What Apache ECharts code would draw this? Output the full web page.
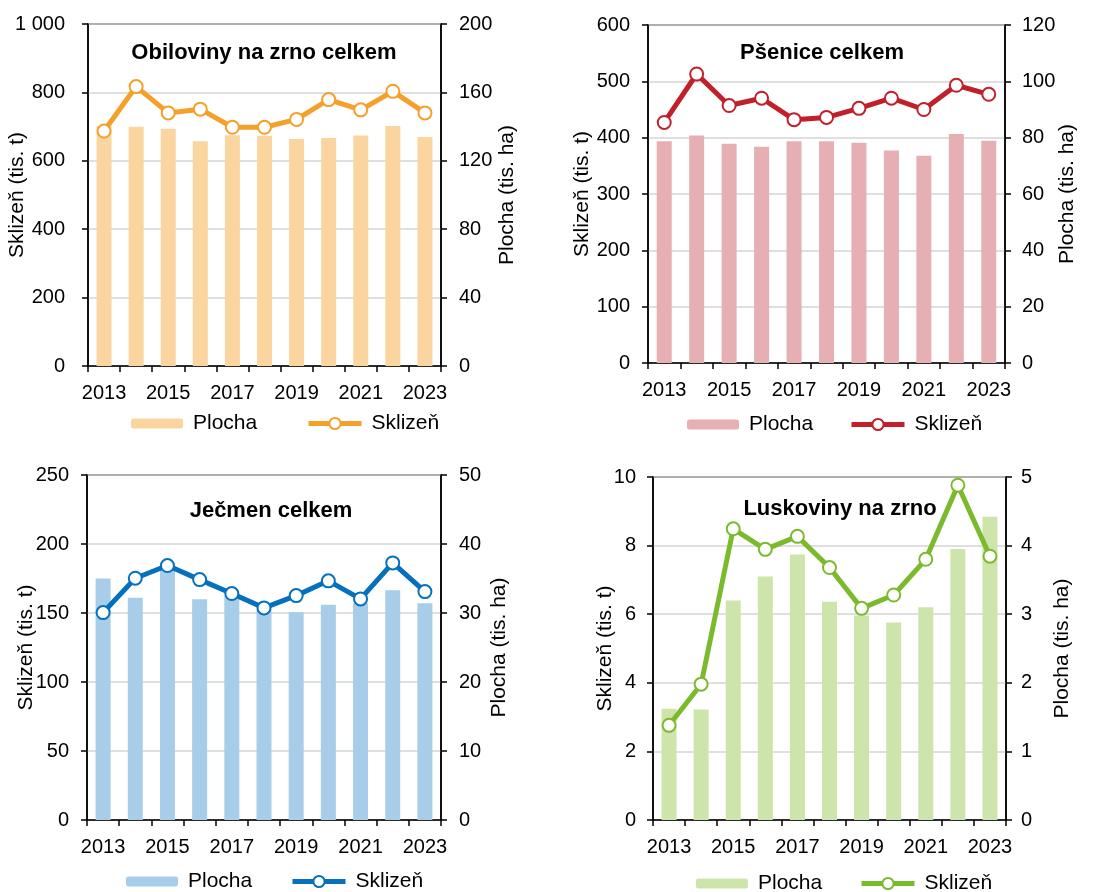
<!DOCTYPE html>
<html>
<head>
<meta charset="utf-8">
<script src="https://cdn.jsdelivr.net/npm/echarts@6/dist/echarts.min.js"></script>
<style>
html,body{margin:0;padding:0;background:#fff;}
.c{position:absolute;width:558px;height:446px;}
</style>
</head>
<body>
<div id="c1" class="c" style="left:0;top:0"></div>
<div id="c2" class="c" style="left:558px;top:0"></div>
<div id="c3" class="c" style="left:0;top:446px"></div>
<div id="c4" class="c" style="left:558px;top:446px"></div>
<script>
const years = ['2013','2014','2015','2016','2017','2018','2019','2020','2021','2022','2023'];

const obilPlocha  = [140.5, 139.9, 138.7, 131.5, 135.0, 134.6, 132.7, 133.3, 134.8, 140.3, 133.9];
const obilSklizen = [687, 817, 740, 751, 698, 698, 721, 779, 749, 803, 740];

const psenPlocha  = [78.7, 80.8, 77.8, 76.8, 78.7, 78.7, 78.2, 75.4, 73.6, 81.3, 78.9];
const psenSklizen = [427, 513, 457, 470, 432, 436, 452, 470, 450, 493, 477];

const jecPlocha  = [35.0, 32.2, 36.3, 32.0, 32.5, 30.5, 30.1, 31.2, 31.4, 33.3, 31.4];
const jecSklizen = [150.3, 175.2, 184.4, 174.2, 164.1, 153.7, 162.6, 173.3, 160.2, 186.3, 165.5];

const luskPlocha  = [1.62, 1.61, 3.20, 3.55, 3.87, 3.18, 2.98, 2.88, 3.10, 3.95, 4.42];
const luskSklizen = [2.76, 3.96, 8.49, 7.89, 8.27, 7.36, 6.17, 6.56, 7.60, 9.76, 7.69];

const titles = ['Obiloviny na zrno celkem', 'Pšenice celkem', 'Ječmen celkem', 'Luskoviny na zrno'];
const leftScale  = [[1000, 200], [600, 100], [250, 50], [10, 2]];   // [max, interval] Sklizeň
const rightScale = [[200, 40], [120, 20], [50, 10], [5, 1]];        // [max, interval] Plocha

const FONT = '"Liberation Sans", Arial, sans-serif';

function fmt(v){ return String(v).replace(/\B(?=(\d{3})+(?!\d))/g, ' '); }

function build(id, idx, plocha, sklizen, barColor, lineColor, L){
  const chart = echarts.init(document.getElementById(id), null, {renderer:'canvas'});
  const axisLineStyle = {color:'#000', width:1.5};
  const legendText = {fontFamily:FONT, fontSize:21, color:'#000', padding:[0,0,0,5]};
  chart.setOption({
    animation:false,
    textStyle:{fontFamily:FONT},
    grid:{left:L.gx, top:L.gy, width:L.gw, height:L.gh, show:true, borderColor:'#000', borderWidth:1.5,
          backgroundColor:'transparent', containLabel:false, outerBoundsMode:'none'},
    graphic:[{type:'text', x:L.tx, y:L.ty, style:{text:titles[idx], font:'bold 22px '+FONT, fill:'#000', align:'center', verticalAlign:'middle'}}],
    legend:[
      {left:L.l1, top:L.ly, padding:0, itemWidth:52, itemHeight:10,
       textStyle:legendText, data:['Plocha']},
      {left:L.l2, top:L.ly, padding:0, itemWidth:53, itemHeight:14,
       textStyle:legendText, data:[{name:'Sklizeň', lineStyle:{width:5}}]}
    ],
    xAxis:{
      type:'category', data:years, boundaryGap:true,
      axisLine:{lineStyle:axisLineStyle},
      axisTick:{show:true, interval:0, length:6, lineStyle:{color:'#000', width:1.5}},
      axisLabel:{interval:1, color:'#000', fontSize:20, fontFamily:FONT, margin:17}
    },
    yAxis:[
      {type:'value', min:0, max:leftScale[idx][0], interval:leftScale[idx][1],
       name:'Sklizeň (tis. t)', nameLocation:'middle', nameGap:L.ng1, nameRotate:90, nameMoveOverlap:false,
       nameTextStyle:{fontSize:21, color:'#000', fontFamily:FONT},
       axisLine:{show:true, lineStyle:axisLineStyle},
       axisTick:{show:true, length:6, lineStyle:{color:'#000', width:1.5}},
       axisLabel:{color:'#000', fontSize:20, fontFamily:FONT, margin:L.lm1, formatter:fmt},
       splitLine:{show:true, lineStyle:{color:'#d4d4d4', width:1.5}}},
      {type:'value', min:0, max:rightScale[idx][0], interval:rightScale[idx][1], position:'right',
       name:'Plocha (tis. ha)', nameLocation:'middle', nameGap:L.ng2, nameRotate:90, nameMoveOverlap:false,
       nameTextStyle:{fontSize:21, color:'#000', fontFamily:FONT},
       axisLine:{show:true, lineStyle:axisLineStyle},
       axisTick:{show:true, length:6, lineStyle:{color:'#000', width:1.5}},
       axisLabel:{color:'#000', fontSize:20, fontFamily:FONT, margin:L.lm2, formatter:fmt},
       splitLine:{show:false}}
    ],
    series:[
      {name:'Plocha', type:'bar', yAxisIndex:1, data:plocha, barWidth:15,
       itemStyle:{color:barColor}},
      {name:'Sklizeň', type:'line', yAxisIndex:0, data:sklizen,
       symbol:'circle', symbolSize:13,
       lineStyle:{color:lineColor, width:5},
       itemStyle:{color:'#fff', borderColor:lineColor, borderWidth:2}}
    ]
  });
}

build('c1', 0, obilPlocha, obilSklizen, '#fbd59f', '#f5a02a',
  {gx:88, gy:24, gw:353, gh:342, tx:264, ty:53, l1:131, l2:306, ly:413, ng1:60, ng2:56, lm1:23, lm2:18});
build('c2', 1, psenPlocha, psenSklizen, '#e6afb3', '#c1202b',
  {gx:90, gy:25, gw:357, gh:338, tx:264, ty:53, l1:129, l2:291, ly:414, ng1:55, ng2:52, lm1:18, lm2:17});
build('c3', 2, jecPlocha, jecSklizen, '#a7cde8', '#0571bd',
  {gx:87, gy:29, gw:354, gh:345, tx:271, ty:65, l1:126, l2:290, ly:425, ng1:50, ng2:48, lm1:18, lm2:18});
build('c4', 3, luskPlocha, luskSklizen, '#cde5ab', '#7cba2d',
  {gx:95, gy:31, gw:353, gh:343, tx:282, ty:63, l1:138, l2:301, ly:427, ng1:37, ng2:46, lm1:17, lm2:15});
</script>
</body>
</html>
